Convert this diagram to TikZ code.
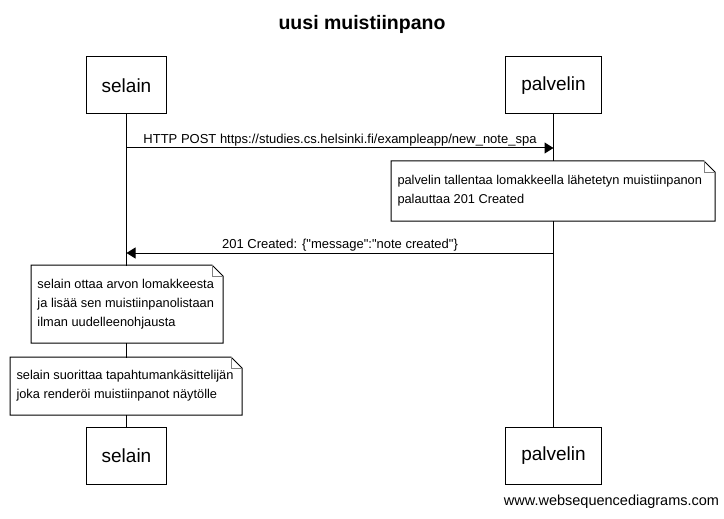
\documentclass[tikz,border=0pt]{standalone}
\usepackage{fontspec}
\setmainfont{Liberation Sans}
\usepackage{xcolor}
\usetikzlibrary{calc,positioning,arrows.meta}
\definecolor{color_fold}{HTML}{808080}

\tikzset{
	actor/.style={draw,inner xsep=15.5pt,inner ysep=0pt,minimum height=57pt,font=\fontsize{19}{22}\selectfont},
	notebox/.style={fill=white,anchor=north west,align=flush left,inner xsep=6pt,inner ysep=0pt,font=\fontsize{12.8}{19}\selectfont},
	msg/.style={-{Triangle[length=9pt,width=11pt]}},
	msglabel/.style={above,inner sep=1.5pt,font=\fontsize{13}{15}\selectfont},
}

\begin{document}
\begin{tikzpicture}[x=1pt,y=-1pt,line width=1pt]
				\useasboundingbox (0, 0) rectangle (724, 519);
				% Title
				\node[font=\bfseries\fontsize{19.5}{23}\selectfont] (title) at (362, 24) {uusi muistiinpano};
		
				% Actors
				\node[actor] (selainTop) at (126.5, 85.5) {selain};
				\node[actor] (palvelinTop) at (553.5, 85.5) {palvelin};
				\node[actor] (selainBot) at (126.5, 455.5) {selain};
				\node[actor] (palvelinBot) at (553.5, 455.5) {palvelin};
		
				% Lifelines
				\draw
					(selainTop) -- (selainBot)
					(palvelinTop) -- (palvelinBot)
					;
		
				% Notes
				\node[notebox,text width=311pt,minimum height=59pt] (noteA) at (391, 161)
					{palvelin tallentaa lomakkeella lähetetyn muistiinpanon\\palauttaa 201 Created};
				\node[notebox,text width=179pt,minimum height=77pt] (noteB) at (31, 265)
					{selain ottaa arvon lomakkeesta\\ja lisää sen muistiinpanolistaan\\ilman uudelleenohjausta};
				\node[notebox,text width=219pt,minimum height=57pt] (noteC) at (10, 357)
					{selain suorittaa tapahtumankäsittelijän\\joka renderöi muistiinpanot näytölle};
				\foreach \n in {noteA,noteB,noteC} {
					\draw
						(\n.north west) --
						($(\n.north east)+(-11,0)$) --
						($(\n.north east)+(0,11)$) --
						(\n.south east) --
						(\n.south west) --
						cycle;
					\draw[color_fold]
						($(\n.north east)+(-11,0)$) |- ($(\n.north east)+(0,11)$);
				}
		
				% Messages
				\draw[msg] (selainTop |- 0,148) --
					node[msglabel] {HTTP POST https://studies.cs.helsinki.fi/exampleapp/new\_note\_spa}
					(palvelinTop |- 0,148);
				\draw[msg] (palvelinTop |- 0,253) --
					node[msglabel] {201 Created: \{\textquotedbl message\textquotedbl:\textquotedbl note created\textquotedbl\}}
					(selainTop |- 0,253);
		
				% Footer
				\node[font=\fontsize{14.5}{17}\selectfont] (footer) at (611.5, 502) {www.websequencediagrams.com};
			\end{tikzpicture}
\end{document}
